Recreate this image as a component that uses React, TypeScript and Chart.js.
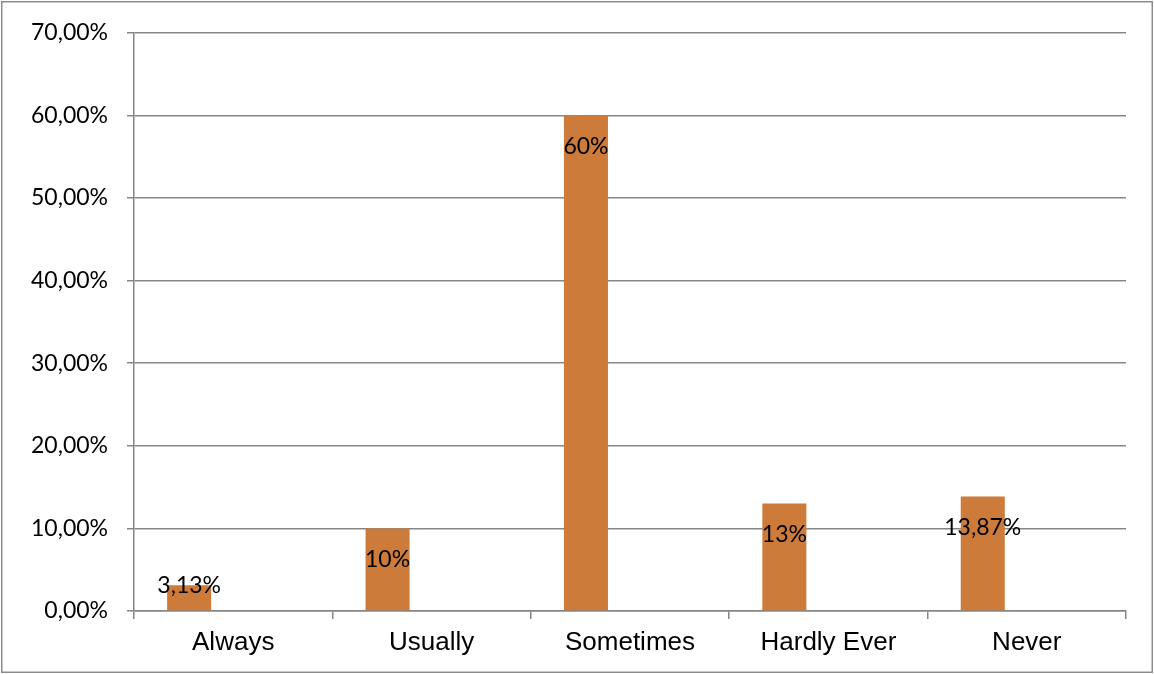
import React, { useEffect, useRef } from "react";
import { Chart, registerables } from "chart.js";

Chart.register(...registerables);

// Survey answers and their shares (percent)
const categories = ["Always", "Usually", "Sometimes", "Hardly Ever", "Never"];
const shares = [3.13, 10, 60, 13, 13.87];
const shareLabels = ["3,13%", "10%", "60%", "13%", "13,87%"];
const yTickMax = 70;
const yTickStep = 10;

const BAR_COLOR = "#CD7B3A";
const AXIS_COLOR = "#868686";
const LABEL_FONT = "Lato, 'Open Sans', sans-serif";
const CATEGORY_FONT = "'Liberation Sans', Arial, sans-serif";

const formatPercent = (v: number) => v.toFixed(2).replace(".", ",") + "%";

// Frame around the whole chart
const framePlugin = {
  id: "frame",
  beforeDraw(chart: any) {
    const { ctx, width, height } = chart;
    ctx.save();
    ctx.fillStyle = "#ffffff";
    ctx.fillRect(0, 0, width, height);
    ctx.strokeStyle = "#8c8c8c";
    ctx.lineWidth = 1.5;
    ctx.strokeRect(1.75, 1.75, width - 3.5, height - 3.5);
    ctx.restore();
  },
};

// Value labels near the inner end of each bar; short bars get them on the top edge
const valueLabelPlugin = {
  id: "valueLabels",
  afterDatasetsDraw(chart: any) {
    const { ctx } = chart;
    const meta = chart.getDatasetMeta(0);
    ctx.save();
    ctx.fillStyle = "#000000";
    ctx.font = `23px ${LABEL_FONT}`;
    ctx.textAlign = "center";
    ctx.textBaseline = "middle";
    meta.data.forEach((bar: any, i: number) => {
      const h = bar.base - bar.y;
      const y = h > 50 ? bar.y + 31 : bar.y;
      ctx.fillText(shareLabels[i], bar.x, y);
    });
    ctx.restore();
  },
};

export default function App() {
  const canvasRef = useRef<HTMLCanvasElement | null>(null);

  useEffect(() => {
    document.body.style.margin = "0";
    const canvas = canvasRef.current;
    if (!canvas) return;
    const chart = new Chart(canvas, {
      type: "bar",
      data: {
        labels: categories,
        datasets: [
          {
            data: shares,
            backgroundColor: BAR_COLOR,
            borderWidth: 0,
          },
          // empty companion series keep the bar at the left of its slot
          { data: categories.map(() => null), backgroundColor: BAR_COLOR },
          { data: categories.map(() => null), backgroundColor: BAR_COLOR },
        ],
      },
      options: {
        responsive: false,
        animation: false,
        events: [],
        datasets: {
          bar: { categoryPercentage: 0.666, barPercentage: 1 },
        },
        layout: { padding: { top: 32, right: 28, left: 0, bottom: 0 } },
        plugins: {
          legend: { display: false },
          tooltip: { enabled: false },
          title: { display: false },
        },
        scales: {
          x: {
            grid: {
              offset: true,
              drawOnChartArea: false,
              drawTicks: true,
              tickLength: 8,
              color: AXIS_COLOR,
              lineWidth: 1.5,
            },
            border: { display: true, color: AXIS_COLOR, width: 1.5 },
            ticks: {
              color: "#000000",
              font: { family: CATEGORY_FONT, size: 26 },
              padding: 8,
              maxRotation: 0,
            },
            afterFit(scale: any) {
              scale.height = 63;
            },
          },
          y: {
            min: 0,
            max: yTickMax,
            ticks: {
              stepSize: yTickStep,
              color: "#000000",
              font: { family: LABEL_FONT, size: 23 },
              padding: 19,
              callback: (v: any) => formatPercent(Number(v)),
            },
            grid: {
              color: AXIS_COLOR,
              lineWidth: 1.5,
              tickLength: 7,
            },
            border: { display: true, color: AXIS_COLOR, width: 1.5 },
            afterFit(scale: any) {
              scale.width = 134;
            },
          },
        },
      },
      plugins: [framePlugin, valueLabelPlugin],
    });
    return () => chart.destroy();
  }, []);

  return (
    <div style={{ width: 1154, height: 674 }}>
      <canvas ref={canvasRef} width={1154} height={674} style={{ display: "block" }} />
    </div>
  );
}
